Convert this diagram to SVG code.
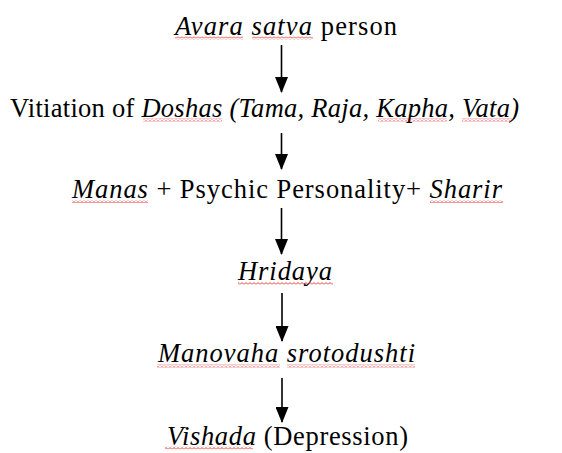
<svg xmlns="http://www.w3.org/2000/svg" width="562" height="453" viewBox="0 0 562 453">
<style>
  text { font-family: "Liberation Serif", "Times New Roman", serif; font-size: 26.5px; fill: #000; }
  .i { font-style: italic; }
  .conn line { stroke: #000; stroke-width: 1.6; marker-end: url(#ah); }
  .sq { fill: url(#wave); }
</style>
<defs>
  <marker id="ah" markerUnits="userSpaceOnUse" markerWidth="16" markerHeight="13" refX="15" refY="6.5" orient="auto" viewBox="0 0 16 13">
    <path d="M0,0 L16,6.5 L0,13 Z" fill="#000"/>
  </marker>
  <pattern id="wave" patternUnits="userSpaceOnUse" width="4" height="3">
    <path d="M0,2.5 L2,0.5 L4,2.5" fill="none" stroke="#e02020" stroke-width="0.9"/>
  </pattern>
</defs>
<g class="conn" id="connectors">
  <line x1="281.5" y1="45" x2="281.5" y2="92"/>
  <line x1="281.5" y1="133" x2="281.5" y2="169"/>
  <line x1="281.5" y1="208" x2="281.5" y2="254"/>
  <line x1="282" y1="293" x2="282" y2="341"/>
  <line x1="282" y1="378" x2="282" y2="422"/>
</g>
<g id="n1">
  <text x="175" y="35" textLength="222" lengthAdjust="spacing"><tspan class="i">Avara satva</tspan> person</text>
  <rect class="sq" x="175" y="36.5" width="68" height="3"/>
  <rect class="sq" x="252" y="36.5" width="61" height="3"/>
</g>
<g id="n2">
  <text x="10" y="117" textLength="509" lengthAdjust="spacing">Vitiation of <tspan class="i">Doshas (Tama, Raja, Kapha, Vata)</tspan></text>
  <rect class="sq" x="143" y="118.5" width="79" height="3"/>
  <rect class="sq" x="378" y="118.5" width="69" height="3"/>
  <rect class="sq" x="462" y="118.5" width="50" height="3"/>
</g>
<g id="n3">
  <text x="72" y="198" textLength="430" lengthAdjust="spacing"><tspan class="i">Manas</tspan> + Psychic Personality+ <tspan class="i">Sharir</tspan></text>
  <rect class="sq" x="72" y="200" width="76" height="3"/>
  <rect class="sq" x="430" y="200" width="73" height="3"/>
</g>
<g id="n4">
  <text x="238" y="280" textLength="94" lengthAdjust="spacing" class="i">Hridaya</text>
  <rect class="sq" x="238" y="282" width="95" height="3"/>
</g>
<g id="n5">
  <text x="158" y="362" textLength="257" lengthAdjust="spacing" class="i">Manovaha srotodushti</text>
  <rect class="sq" x="157" y="364.5" width="123" height="3"/>
  <rect class="sq" x="287" y="364.5" width="128" height="3"/>
</g>
<g id="n6">
  <text x="167" y="445" textLength="241" lengthAdjust="spacing"><tspan class="i">Vishada</tspan> (Depression)</text>
  <rect class="sq" x="165" y="446.5" width="88" height="3"/>
</g>
</svg>
